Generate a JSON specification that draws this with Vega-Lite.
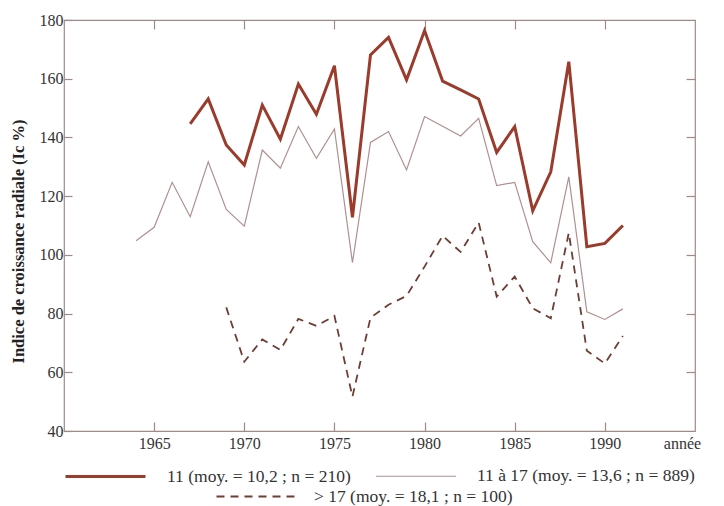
{
  "$schema": "https://vega.github.io/schema/vega-lite/v6.json",
  "width": 631,
  "height": 411,
  "autosize": "none",
  "padding": {"left": 64, "top": 20, "right": 29, "bottom": 75},
  "background": "white",
  "config": {
    "font": "Liberation Serif",
    "view": {"stroke": "#a08a86", "strokeWidth": 1.2},
    "axis": {"grid": false, "domain": false, "tickColor": "#a08a86", "tickWidth": 1.2, "labelColor": "#333", "labelFont": "Liberation Serif", "labelFontSize": 16, "titleFont": "Liberation Serif"},
    "legend": {"labelFont": "Liberation Serif", "labelFontSize": 17.5, "labelColor": "#333", "labelLimit": 400}
  },
  "datasets": {
    "pts": [
      {"year": 1967, "value": 144.6, "series": "11 (moy. = 10,2 ; n = 210)"},
      {"year": 1968, "value": 153.1, "series": "11 (moy. = 10,2 ; n = 210)"},
      {"year": 1969, "value": 137.4, "series": "11 (moy. = 10,2 ; n = 210)"},
      {"year": 1970, "value": 130.6, "series": "11 (moy. = 10,2 ; n = 210)"},
      {"year": 1971, "value": 151.0, "series": "11 (moy. = 10,2 ; n = 210)"},
      {"year": 1972, "value": 139.4, "series": "11 (moy. = 10,2 ; n = 210)"},
      {"year": 1973, "value": 158.2, "series": "11 (moy. = 10,2 ; n = 210)"},
      {"year": 1974, "value": 147.9, "series": "11 (moy. = 10,2 ; n = 210)"},
      {"year": 1975, "value": 164.4, "series": "11 (moy. = 10,2 ; n = 210)"},
      {"year": 1976, "value": 112.8, "series": "11 (moy. = 10,2 ; n = 210)"},
      {"year": 1977, "value": 168.1, "series": "11 (moy. = 10,2 ; n = 210)"},
      {"year": 1978, "value": 174.1, "series": "11 (moy. = 10,2 ; n = 210)"},
      {"year": 1979, "value": 159.6, "series": "11 (moy. = 10,2 ; n = 210)"},
      {"year": 1980, "value": 176.4, "series": "11 (moy. = 10,2 ; n = 210)"},
      {"year": 1981, "value": 159.2, "series": "11 (moy. = 10,2 ; n = 210)"},
      {"year": 1982, "value": 156.2, "series": "11 (moy. = 10,2 ; n = 210)"},
      {"year": 1983, "value": 153.1, "series": "11 (moy. = 10,2 ; n = 210)"},
      {"year": 1984, "value": 134.9, "series": "11 (moy. = 10,2 ; n = 210)"},
      {"year": 1985, "value": 143.7, "series": "11 (moy. = 10,2 ; n = 210)"},
      {"year": 1986, "value": 115.0, "series": "11 (moy. = 10,2 ; n = 210)"},
      {"year": 1987, "value": 128.3, "series": "11 (moy. = 10,2 ; n = 210)"},
      {"year": 1988, "value": 165.8, "series": "11 (moy. = 10,2 ; n = 210)"},
      {"year": 1989, "value": 102.8, "series": "11 (moy. = 10,2 ; n = 210)"},
      {"year": 1990, "value": 103.9, "series": "11 (moy. = 10,2 ; n = 210)"},
      {"year": 1991, "value": 110.0, "series": "11 (moy. = 10,2 ; n = 210)"},
      {"year": 1964, "value": 104.8, "series": "11 à 17 (moy. = 13,6 ; n = 889)"},
      {"year": 1965, "value": 109.4, "series": "11 à 17 (moy. = 13,6 ; n = 889)"},
      {"year": 1966, "value": 124.7, "series": "11 à 17 (moy. = 13,6 ; n = 889)"},
      {"year": 1967, "value": 113.0, "series": "11 à 17 (moy. = 13,6 ; n = 889)"},
      {"year": 1968, "value": 131.7, "series": "11 à 17 (moy. = 13,6 ; n = 889)"},
      {"year": 1969, "value": 115.5, "series": "11 à 17 (moy. = 13,6 ; n = 889)"},
      {"year": 1970, "value": 109.8, "series": "11 à 17 (moy. = 13,6 ; n = 889)"},
      {"year": 1971, "value": 135.7, "series": "11 à 17 (moy. = 13,6 ; n = 889)"},
      {"year": 1972, "value": 129.5, "series": "11 à 17 (moy. = 13,6 ; n = 889)"},
      {"year": 1973, "value": 143.7, "series": "11 à 17 (moy. = 13,6 ; n = 889)"},
      {"year": 1974, "value": 132.9, "series": "11 à 17 (moy. = 13,6 ; n = 889)"},
      {"year": 1975, "value": 142.9, "series": "11 à 17 (moy. = 13,6 ; n = 889)"},
      {"year": 1976, "value": 97.3, "series": "11 à 17 (moy. = 13,6 ; n = 889)"},
      {"year": 1977, "value": 138.3, "series": "11 à 17 (moy. = 13,6 ; n = 889)"},
      {"year": 1978, "value": 142.0, "series": "11 à 17 (moy. = 13,6 ; n = 889)"},
      {"year": 1979, "value": 128.9, "series": "11 à 17 (moy. = 13,6 ; n = 889)"},
      {"year": 1980, "value": 147.1, "series": "11 à 17 (moy. = 13,6 ; n = 889)"},
      {"year": 1981, "value": 143.8, "series": "11 à 17 (moy. = 13,6 ; n = 889)"},
      {"year": 1982, "value": 140.5, "series": "11 à 17 (moy. = 13,6 ; n = 889)"},
      {"year": 1983, "value": 146.5, "series": "11 à 17 (moy. = 13,6 ; n = 889)"},
      {"year": 1984, "value": 123.6, "series": "11 à 17 (moy. = 13,6 ; n = 889)"},
      {"year": 1985, "value": 124.7, "series": "11 à 17 (moy. = 13,6 ; n = 889)"},
      {"year": 1986, "value": 104.5, "series": "11 à 17 (moy. = 13,6 ; n = 889)"},
      {"year": 1987, "value": 97.3, "series": "11 à 17 (moy. = 13,6 ; n = 889)"},
      {"year": 1988, "value": 126.6, "series": "11 à 17 (moy. = 13,6 ; n = 889)"},
      {"year": 1989, "value": 80.6, "series": "11 à 17 (moy. = 13,6 ; n = 889)"},
      {"year": 1990, "value": 78.0, "series": "11 à 17 (moy. = 13,6 ; n = 889)"},
      {"year": 1991, "value": 81.6, "series": "11 à 17 (moy. = 13,6 ; n = 889)"},
      {"year": 1969, "value": 82.1, "series": "> 17 (moy. = 18,1 ; n = 100)"},
      {"year": 1970, "value": 63.6, "series": "> 17 (moy. = 18,1 ; n = 100)"},
      {"year": 1971, "value": 71.2, "series": "> 17 (moy. = 18,1 ; n = 100)"},
      {"year": 1972, "value": 67.6, "series": "> 17 (moy. = 18,1 ; n = 100)"},
      {"year": 1973, "value": 78.2, "series": "> 17 (moy. = 18,1 ; n = 100)"},
      {"year": 1974, "value": 75.8, "series": "> 17 (moy. = 18,1 ; n = 100)"},
      {"year": 1975, "value": 79.2, "series": "> 17 (moy. = 18,1 ; n = 100)"},
      {"year": 1976, "value": 51.7, "series": "> 17 (moy. = 18,1 ; n = 100)"},
      {"year": 1977, "value": 78.6, "series": "> 17 (moy. = 18,1 ; n = 100)"},
      {"year": 1978, "value": 83.0, "series": "> 17 (moy. = 18,1 ; n = 100)"},
      {"year": 1979, "value": 86.0, "series": "> 17 (moy. = 18,1 ; n = 100)"},
      {"year": 1980, "value": 96.0, "series": "> 17 (moy. = 18,1 ; n = 100)"},
      {"year": 1981, "value": 106.5, "series": "> 17 (moy. = 18,1 ; n = 100)"},
      {"year": 1982, "value": 101.0, "series": "> 17 (moy. = 18,1 ; n = 100)"},
      {"year": 1983, "value": 111.0, "series": "> 17 (moy. = 18,1 ; n = 100)"},
      {"year": 1984, "value": 85.8, "series": "> 17 (moy. = 18,1 ; n = 100)"},
      {"year": 1985, "value": 92.6, "series": "> 17 (moy. = 18,1 ; n = 100)"},
      {"year": 1986, "value": 81.8, "series": "> 17 (moy. = 18,1 ; n = 100)"},
      {"year": 1987, "value": 78.4, "series": "> 17 (moy. = 18,1 ; n = 100)"},
      {"year": 1988, "value": 107.5, "series": "> 17 (moy. = 18,1 ; n = 100)"},
      {"year": 1989, "value": 67.3, "series": "> 17 (moy. = 18,1 ; n = 100)"},
      {"year": 1990, "value": 63.0, "series": "> 17 (moy. = 18,1 ; n = 100)"},
      {"year": 1991, "value": 72.4, "series": "> 17 (moy. = 18,1 ; n = 100)"}
    ]
  },
  "data": {"name": "pts"},
  "layer": [
    {
      "transform": [{"filter": "datum.series !== '> 17 (moy. = 18,1 ; n = 100)'"}],
      "mark": {"type": "line", "strokeJoin": "miter", "strokeMiterLimit": 4},
      "encoding": {
        "x": {"field": "year", "type": "quantitative", "scale": {"domain": [1960, 1995], "nice": false, "zero": false},
              "axis": {"orient": "bottom", "values": [1965, 1970, 1975, 1980, 1985, 1990], "format": "d", "tickSize": -9, "labelPadding": 13, "title": "année", "titleFontSize": 16, "titleFontWeight": "normal", "titleColor": "#333", "titleAnchor": "start", "titleAlign": "center", "titleX": 618, "titleY": 17, "titleBaseline": "alphabetic"}},
        "y": {"field": "value", "type": "quantitative", "scale": {"domain": [40, 180], "nice": false, "zero": false},
              "axis": {"orient": "left", "values": [40, 60, 80, 100, 120, 140, 160, 180], "tickSize": -8, "labelPadding": 9, "title": "Indice de croissance radiale (Ic %)", "titleFontSize": 16.5, "titleFontWeight": "bold", "titleColor": "#222", "titleAnchor": "start", "titleAngle": -90, "titleAlign": "center", "titleBaseline": "middle", "titleX": -46, "titleY": 221}},
        "color": {"field": "series", "type": "nominal", "sort": null,
                  "scale": {"domain": ["11 (moy. = 10,2 ; n = 210)", "11 à 17 (moy. = 13,6 ; n = 889)"], "range": ["#9a3b2b", "#b09090"]},
                  "legend": {"orient": "none", "legendX": 0, "legendY": 415, "direction": "horizontal", "title": null, "symbolType": "stroke", "symbolSize": 6400, "labelOffset": 20, "columnPadding": 22}},
        "strokeWidth": {"field": "series", "type": "nominal", "sort": null,
                  "scale": {"domain": ["11 (moy. = 10,2 ; n = 210)", "11 à 17 (moy. = 13,6 ; n = 889)"], "range": [3, 1.2]},
                  "legend": {"orient": "none", "legendX": 0, "legendY": 415, "direction": "horizontal", "title": null, "symbolType": "stroke", "symbolSize": 6400, "labelOffset": 20, "columnPadding": 22}},
        "detail": {"field": "series"}
      }
    },
    {
      "transform": [{"filter": "datum.series === '> 17 (moy. = 18,1 ; n = 100)'"}],
      "mark": {"type": "line", "color": "#6e3d33", "strokeWidth": 1.8},
      "encoding": {
        "x": {"field": "year", "type": "quantitative", "axis": {"orient": "top", "values": [1965, 1970, 1975, 1980, 1985, 1990], "labels": false, "tickSize": -9, "title": null}},
        "y": {"field": "value", "type": "quantitative", "axis": {"orient": "right", "values": [60, 80, 100, 120, 140, 160], "labels": false, "tickSize": -9, "title": null}},
        "strokeDash": {"field": "series", "type": "nominal",
                  "scale": {"domain": ["> 17 (moy. = 18,1 ; n = 100)"], "range": [[8, 6]]},
                  "legend": {"orient": "none", "legendX": 151, "legendY": 435, "title": null, "symbolType": "stroke", "symbolSize": 6400, "symbolStrokeColor": "#6e3d33", "symbolStrokeWidth": 2.2, "labelOffset": 16}}
      }
    }
  ]
}
